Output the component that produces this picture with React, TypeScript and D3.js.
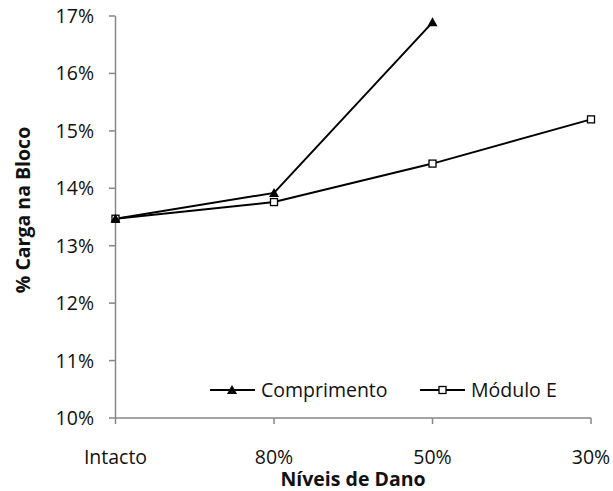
import React from "react";
import * as d3 from "d3";

const categories = ["Intacto", "80%", "50%", "30%"];
const comprimento: (number | null)[] = [13.47, 13.92, 16.89, null];
const moduloE: (number | null)[] = [13.47, 13.76, 14.43, 15.2];
const yTicks = [10, 11, 12, 13, 14, 15, 16, 17];

const W = 613, H = 491;
const FONT = "'Open Sans', 'Liberation Sans', sans-serif";
const FS = 19.5;

export default function App() {
  const x = d3.scalePoint<string>().domain(categories).range([115.5, 591]);
  const y = d3.scaleLinear().domain([10, 17]).range([418, 16]);
  const line = d3
    .line<{ c: string; v: number | null }>()
    .defined((d) => d.v !== null)
    .x((d) => x(d.c)!)
    .y((d) => y(d.v as number));
  const compData = categories.map((c, i) => ({ c, v: comprimento[i] }));
  const modData = categories.map((c, i) => ({ c, v: moduloE[i] }));
  const axisColor = "#868686";
  const tri = (cx: number, cy: number, s = 5) =>
    `M${cx},${cy - s} L${cx + s},${cy + s * 0.8} L${cx - s},${cy + s * 0.8} Z`;

  return (
    <svg width={W} height={H} style={{ position: "absolute", left: 0, top: 0 }} fontFamily={FONT}>
      <rect width={W} height={H} fill="white" />
      {/* y axis */}
      <line x1={115.5} x2={115.5} y1={y(17)} y2={y(10)} stroke={axisColor} strokeWidth={1.5} />
      {yTicks.map((t) => (
        <g key={t}>
          <line x1={109} x2={115.5} y1={y(t)} y2={y(t)} stroke={axisColor} strokeWidth={1.5} />
          <text x={94} y={y(t)} dy="0.36em" textAnchor="end" fontSize={FS} fill="#111">
            {t}%
          </text>
        </g>
      ))}
      {/* x axis */}
      <line x1={115.5} x2={591} y1={y(10)} y2={y(10)} stroke={axisColor} strokeWidth={1.5} />
      {categories.map((c) => (
        <g key={c}>
          <line x1={x(c)} x2={x(c)} y1={y(10)} y2={y(10) + 6} stroke={axisColor} strokeWidth={1.5} />
          <text x={x(c)} y={464} textAnchor="middle" fontSize={FS} fill="#111">
            {c}
          </text>
        </g>
      ))}
      <text x={353} y={486} textAnchor="middle" fontSize={19.5} fontWeight="bold" fill="#111">
        Níveis de Dano
      </text>
      <text
        transform={`translate(30,${210}) rotate(-90)`}
        textAnchor="middle"
        fontSize={19.5}
        fontWeight="bold"
        fill="#111"
      >
        % Carga na Bloco
      </text>
      {/* series */}
      <path d={line(modData) || ""} fill="none" stroke="#000" strokeWidth={2} />
      <path d={line(compData) || ""} fill="none" stroke="#000" strokeWidth={2} />
      {modData.filter((d) => d.v !== null).map((d) => (
        <rect key={"m" + d.c} x={x(d.c)! - 3.5} y={y(d.v as number) - 3.5} width={7} height={7} fill="white" stroke="#000" strokeWidth={1.3} />
      ))}
      {compData.filter((d) => d.v !== null).map((d) => (
        <path key={"c" + d.c} d={tri(x(d.c)!, y(d.v as number))} fill="#000" />
      ))}
      {/* legend */}
      <line x1={210} x2={255} y1={390} y2={390} stroke="#000" strokeWidth={2} />
      <path d={tri(232, 390)} fill="#000" />
      <text x={261} y={390} dy="0.36em" fontSize={FS} fill="#111">Comprimento</text>
      <line x1={420} x2={465} y1={390} y2={390} stroke="#000" strokeWidth={2} />
      <rect x={439} y={386.5} width={7} height={7} fill="white" stroke="#000" strokeWidth={1.3} />
      <text x={471} y={390} dy="0.36em" fontSize={FS} fill="#111">Módulo E</text>
    </svg>
  );
}
